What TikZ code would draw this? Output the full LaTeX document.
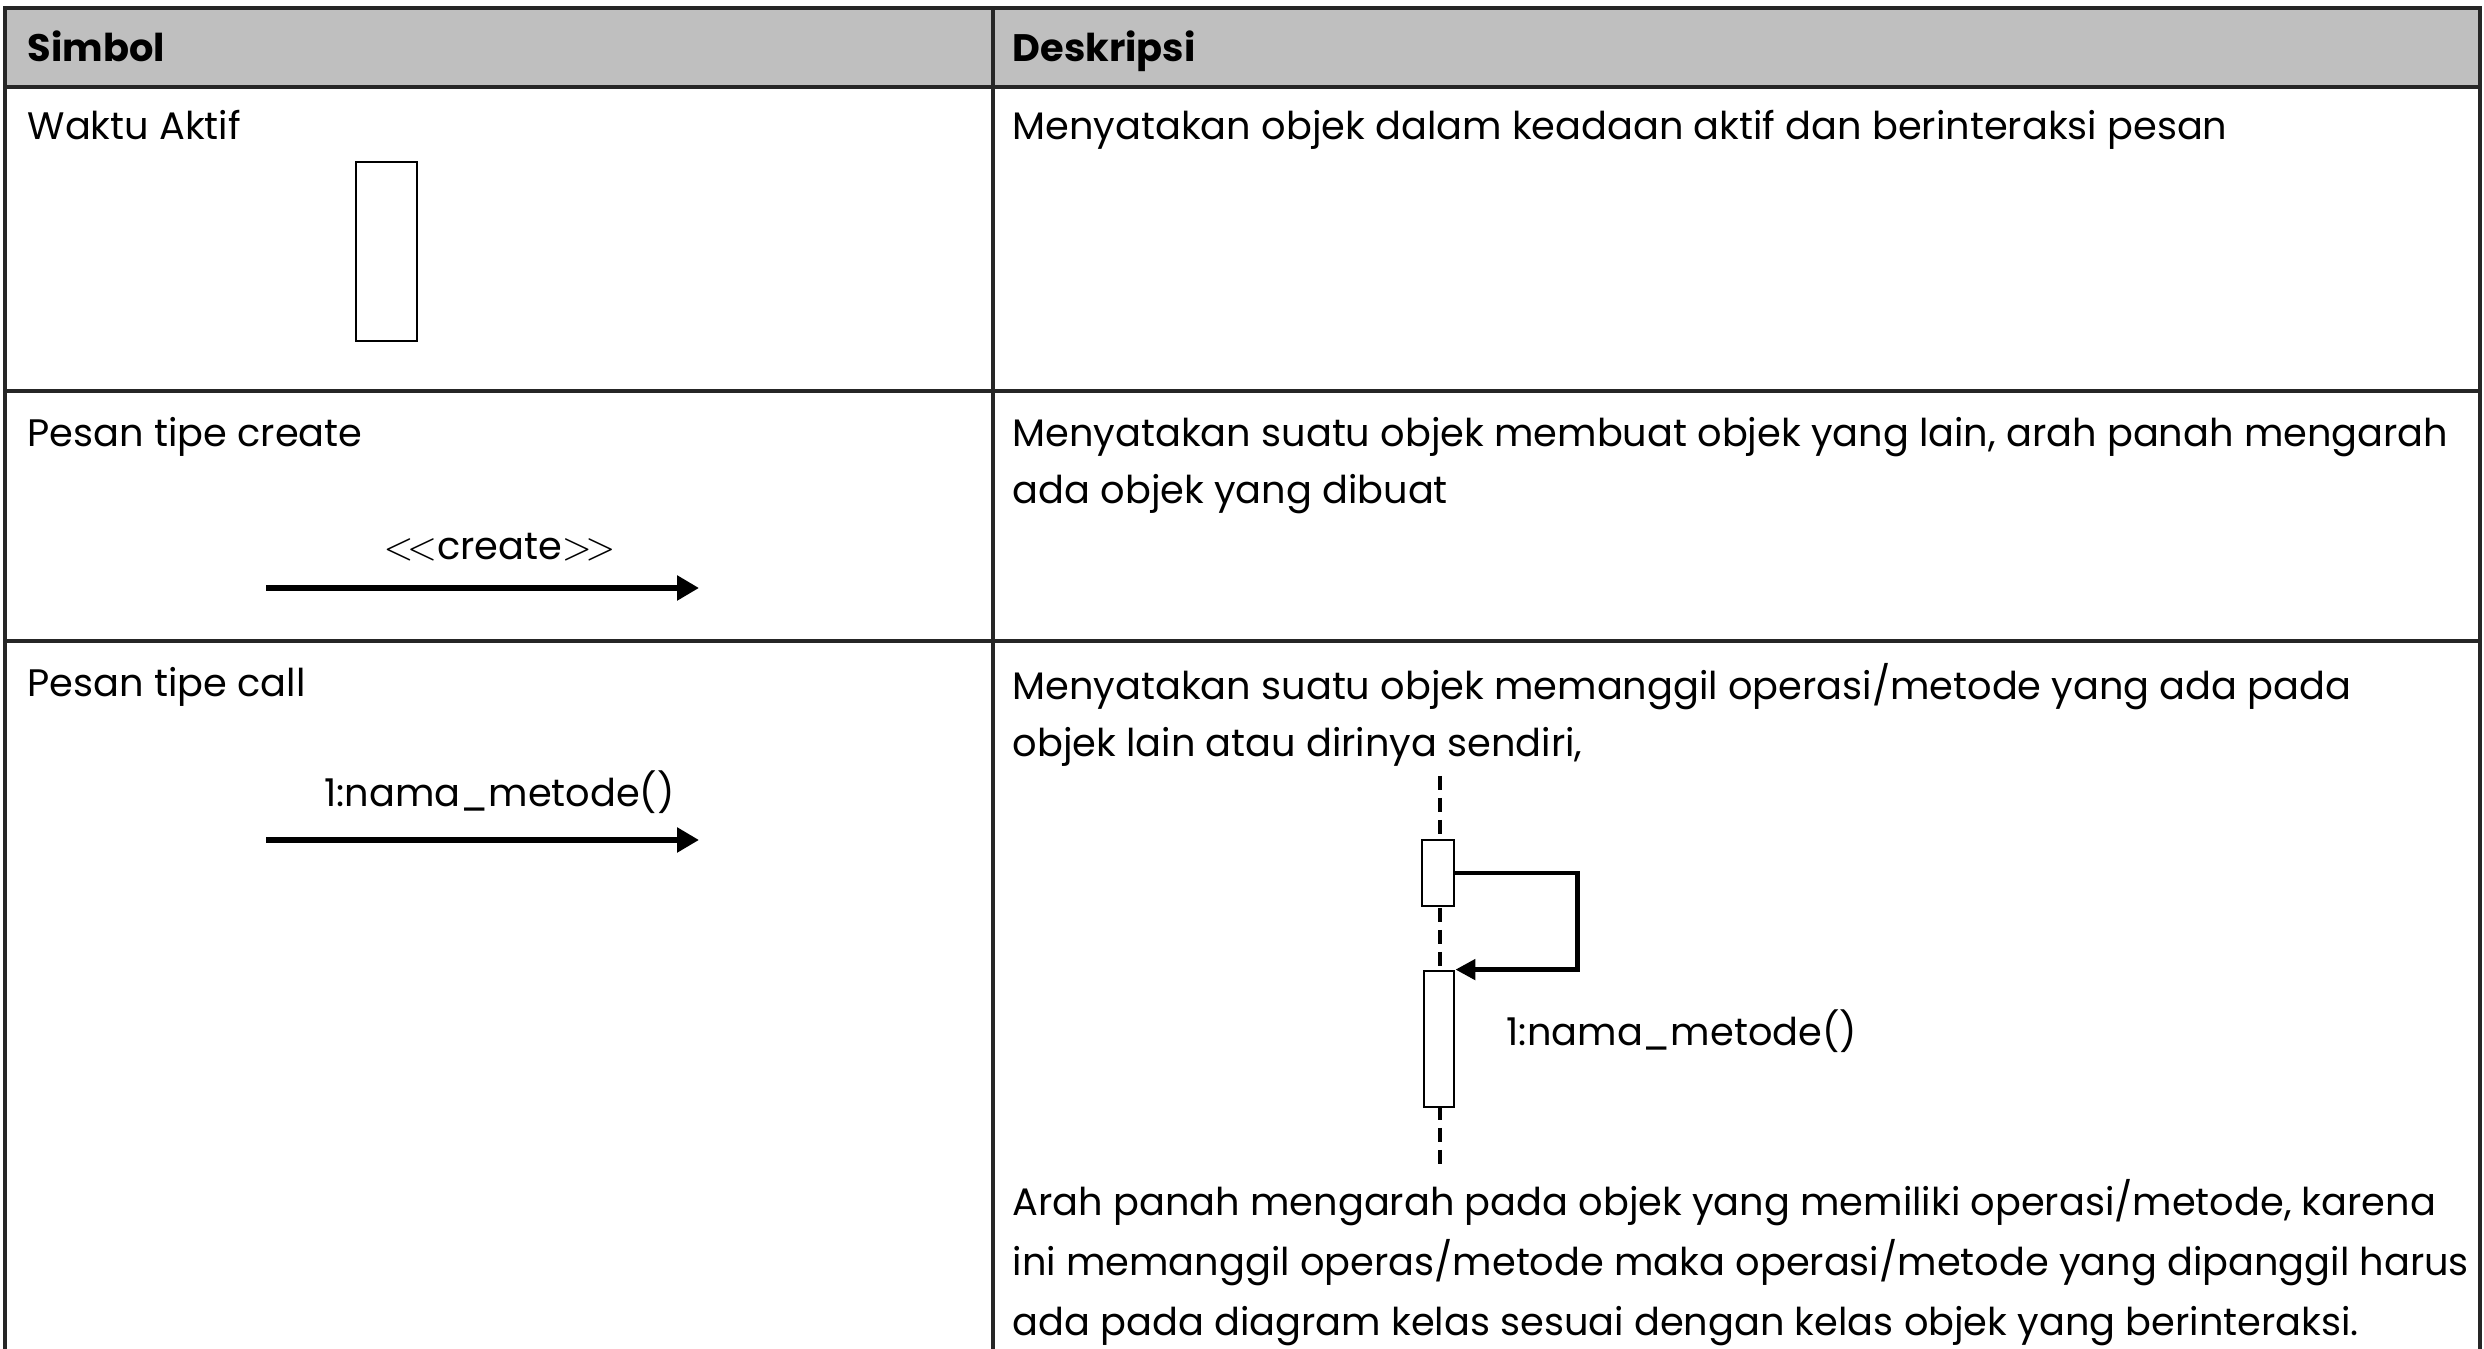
\documentclass[tikz,border=0pt]{standalone}
\usepackage{fontspec}
\setmainfont{Poppins}
\usetikzlibrary{arrows.meta}
\definecolor{headgray}{HTML}{BFBFBF}
\definecolor{rule}{HTML}{262626}
\tikzset{
  grid/.style={draw=rule,line width=1pt},
  txt/.style={anchor=north west,align=left,inner sep=0pt},
  msg/.style={line width=1.7pt,-{Triangle[length=0.22cm,width=0.24cm]}},
  selfmsg/.style={line width=1.4pt,-{Triangle[length=0.2cm,width=0.2cm]}},
  life/.style={line width=1.4pt,dash pattern=on 0.14cm off 0.08cm},
  actbox/.style={draw,line width=0.8pt,fill=white,inner sep=0pt}
}
\begin{document}
\begin{tikzpicture}[every node/.style={font=\fontsize{10.9}{16.2}\selectfont}]
\useasboundingbox (0,0) rectangle (24.84,-13.49);
% table
\fill[headgray] (0.05,-0.08) rectangle (24.80,-0.87);
\draw[grid] (0.05,-13.49) -- (0.05,-0.08) -- (24.80,-0.08) -- (24.80,-13.49);
\draw[grid] (9.93,-0.08) -- (9.93,-13.49);
\draw[grid] (0.05,-0.87) -- (24.80,-0.87);
\draw[grid] (0.05,-3.91) -- (24.80,-3.91);
\draw[grid] (0.05,-6.41) -- (24.80,-6.41);
\node[txt] (h1) at (0.27,-0.30) {\textbf{Simbol}};
\node[txt] (h2) at (10.12,-0.30) {\textbf{Deskripsi}};
% waktu aktif
\node[txt] (s1) at (0.27,-1.10) {Waktu Aktif};
\node[actbox,minimum width=0.61cm,minimum height=1.79cm] (wa) at (3.865,-2.515) {};
\node[txt] (d1) at (10.12,-1.10) {Menyatakan objek dalam keadaan aktif dan berinteraksi pesan};
% create
\node[txt] (s2) at (0.27,-4.17) {Pesan tipe create};
\coordinate (cr1) at (2.66,-5.88);
\coordinate (cr2) at (6.99,-5.88);
\draw[msg] (cr1) -- node[above=0.12cm,xshift=0.17cm] {$<\!<$create$>\!>$} (cr2);
\node[txt] (d2) at (10.12,-4.17) {Menyatakan suatu objek membuat objek yang lain, arah panah mengarah\\ada objek yang dibuat};
% call
\node[txt] (s3) at (0.27,-6.67) {Pesan tipe call};
\coordinate (cl1) at (2.66,-8.40);
\coordinate (cl2) at (6.99,-8.40);
\draw[msg] (cl1) -- node[above=0.12cm,xshift=0.17cm] {1:nama\_metode()} (cl2);
\node[txt] (d3) at (10.12,-6.63) {Menyatakan suatu objek memanggil operasi/metode yang ada pada\\objek lain atau dirinya sendiri,};
\coordinate (lt) at (14.40,-7.76);
\coordinate (lb) at (14.40,-11.69);
\draw[life] (lt) -- (lb);
\node[actbox,minimum width=0.32cm,minimum height=0.66cm] (ab1) at (14.38,-8.73) {};
\node[actbox,minimum width=0.30cm,minimum height=1.36cm] (ab2) at (14.39,-10.39) {};
\draw[selfmsg] (ab1.east) -- ++(1.22,0) |- (ab2.north east);
\node[anchor=west,inner sep=0pt] (lbl) at (15.06,-10.31) {1:nama\_metode()};
\node[txt,font=\fontsize{10.9}{17}\selectfont] (d4) at (10.12,-11.79) {Arah panah mengarah pada objek yang memiliki operasi/metode, karena\\ini memanggil operas/metode maka operasi/metode yang dipanggil harus\\ada pada diagram kelas sesuai dengan kelas objek yang berinteraksi.};
\end{tikzpicture}
\end{document}
